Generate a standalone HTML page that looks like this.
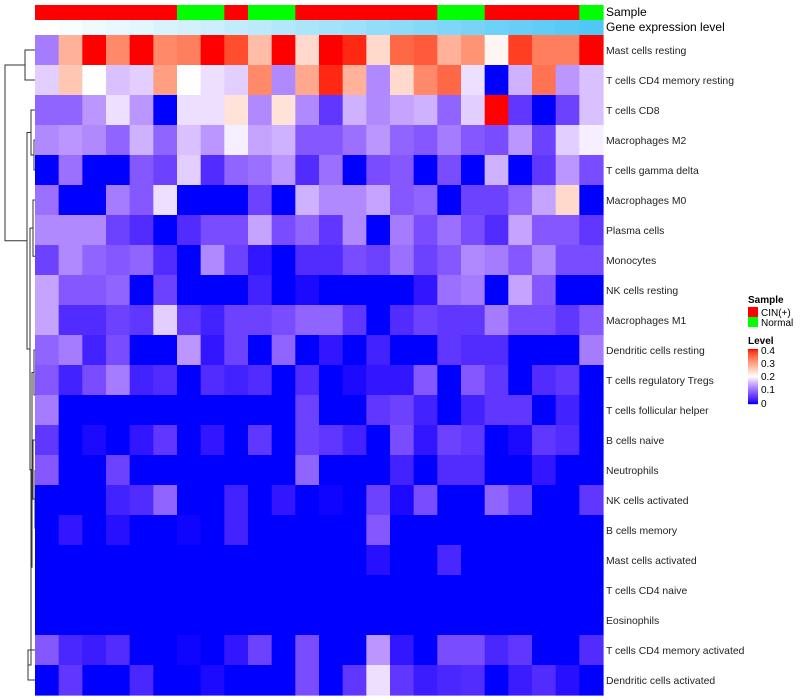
<!DOCTYPE html>
<html><head><meta charset="utf-8"><style>
body{margin:0;background:#fff}
svg{display:block;font-family:"Liberation Sans",sans-serif}
</style></head><body>
<svg id="chart" width="800" height="700" xmlns="http://www.w3.org/2000/svg">
<g id="dendro" fill="none" stroke="#333" stroke-width="1"></g>
<g id="anno"></g>
<g id="cells"></g>
<g id="labels" font-size="10.4" fill="#222"></g>
<text x="606" y="16" font-size="12">Sample</text>
<text x="606" y="31" font-size="12">Gene expression level</text>
<g id="legend" font-size="10">
<text x="748" y="303" font-weight="bold">Sample</text>
<rect x="748" y="307" width="10" height="10" fill="#ff0000"/>
<text x="761" y="316">CIN(+)</text>
<rect x="748" y="317" width="10" height="10" fill="#00ff00"/>
<text x="761" y="326">Normal</text>
<text x="748" y="344" font-weight="bold">Level</text>
<g id="lgrad"></g>
<text x="761" y="354">0.4</text>
<text x="761" y="367">0.3</text>
<text x="761" y="380">0.2</text>
<text x="761" y="393">0.1</text>
<text x="761" y="407">0</text>
</g>
</svg>
<script>
const rowNames=["Mast cells resting","T cells CD4 memory resting","T cells CD8","Macrophages M2","T cells gamma delta","Macrophages M0","Plasma cells","Monocytes","NK cells resting","Macrophages M1","Dendritic cells resting","T cells regulatory  Tregs","T cells follicular helper","B cells naive","Neutrophils","NK cells activated","B cells memory","Mast cells activated","T cells CD4 naive","Eosinophils","T cells CD4 memory activated","Dendritic cells activated"];
const sampleGroups=["CIN","CIN","CIN","CIN","CIN","CIN","Normal","Normal","CIN","Normal","Normal","CIN","CIN","CIN","CIN","CIN","CIN","Normal","Normal","CIN","CIN","CIN","CIN","Normal"];
const geneExpr=[0,0.04,0.09,0.13,0.17,0.22,0.26,0.3,0.35,0.39,0.43,0.48,0.52,0.56,0.61,0.65,0.7,0.74,0.78,0.83,0.87,0.91,0.96,1];
const values=[
[0.11,0.28,0.4,0.32,0.4,0.32,0.33,0.4,0.37,0.27,0.4,0.24,0.4,0.39,0.24,0.35,0.36,0.28,0.31,0.21,0.38,0.33,0.33,0.4],
[0.17,0.26,0.2,0.16,0.17,0.3,0.2,0.18,0.17,0.32,0.12,0.29,0.39,0.28,0.12,0.24,0.32,0.35,0.18,0,0.15,0.34,0.13,0.16],
[0.09,0.09,0.13,0.18,0.13,0,0.18,0.18,0.23,0.12,0.23,0.12,0.05,0.15,0.12,0.14,0.15,0.09,0.17,0.4,0.05,0,0.06,0.16],
[0.12,0.13,0.12,0.09,0.15,0.09,0.16,0.13,0.19,0.14,0.15,0.08,0.08,0.1,0.13,0.09,0.08,0.11,0.08,0.07,0.13,0.06,0.17,0.19],
[0,0.1,0,0,0.08,0.06,0.17,0.04,0.09,0.1,0.13,0.04,0.1,0,0.07,0.08,0,0.07,0,0.15,0,0.05,0.13,0.07],
[0.1,0,0,0.11,0.08,0.18,0,0,0,0.06,0,0.15,0.12,0.12,0.14,0.08,0.09,0,0.06,0.06,0.09,0.14,0.24,0],
[0.12,0.12,0.12,0.06,0.04,0,0.04,0.07,0.07,0.14,0.07,0.09,0.05,0.12,0,0.11,0.07,0.1,0.07,0.04,0.14,0.08,0.08,0.05],
[0.06,0.12,0.09,0.08,0.09,0.04,0,0.12,0.06,0.02,0,0.04,0.04,0.07,0.06,0.1,0.06,0.08,0.12,0.11,0.08,0.12,0.07,0.07],
[0.14,0.08,0.08,0.09,0,0.06,0,0,0,0.03,0,0.01,0,0,0,0,0.02,0.1,0.11,0,0.14,0.08,0,0],
[0.14,0.04,0.04,0.06,0.05,0.17,0.05,0.03,0.06,0.06,0.07,0.09,0.09,0.05,0,0.04,0.06,0.05,0.05,0.11,0.07,0.07,0.05,0.08],
[0.09,0.11,0.03,0.07,0,0,0.13,0.02,0.06,0,0.09,0,0.02,0,0.03,0,0,0.05,0.04,0.04,0,0,0,0.11],
[0.08,0.03,0.07,0.11,0.03,0.04,0,0.04,0.03,0.04,0,0.04,0,0.01,0.02,0.02,0.08,0,0.08,0.05,0,0.04,0.05,0],
[0.11,0,0,0,0,0,0,0,0,0,0,0.06,0,0,0.05,0.06,0.03,0,0.03,0.05,0.05,0,0.03,0],
[0.05,0,0.01,0,0.02,0.05,0,0.02,0,0.05,0,0.06,0.05,0.03,0,0.07,0.02,0.06,0.05,0,0.01,0.05,0.04,0],
[0.08,0,0,0.06,0,0,0,0,0,0,0,0.09,0,0,0,0.03,0,0.04,0.04,0,0,0.02,0,0],
[0,0,0,0.03,0.04,0.09,0,0,0.03,0,0.02,0,0.005,0,0.06,0.01,0.07,0,0,0.09,0.06,0,0,0.05],
[0,0.02,0,0.015,0,0,0.005,0,0.03,0,0,0,0,0,0.08,0,0,0,0,0,0,0,0,0],
[0,0,0,0,0,0,0,0,0,0,0,0,0,0,0.015,0,0,0.035,0,0,0,0,0,0],
[0,0,0,0,0,0,0,0,0,0,0,0,0,0,0,0,0,0,0,0,0,0,0,0],
[0,0,0,0,0,0,0,0,0,0,0,0,0,0,0,0,0,0,0,0,0,0,0,0],
[0.08,0.035,0.025,0.04,0,0,0.005,0,0.02,0.06,0,0.07,0,0,0.13,0.02,0,0.07,0.07,0.035,0.05,0,0,0.04],
[0,0.05,0,0,0.035,0,0,0.01,0,0,0,0.07,0,0.05,0.18,0.05,0.025,0.035,0.04,0,0.025,0.04,0.015,0]
];
const NS="http://www.w3.org/2000/svg";
const X0=35,X1=603,Y0=35,RH=30,nC=24,CW=(X1-X0)/nC;
const xPos=i=>X0+i*CW, yPos=r=>Y0+r*RH;
function lin(c){c/=255;return c<=0.04045?c/12.92:Math.pow((c+0.055)/1.055,2.4);}
function gam(c){c=c<=0.0031308?12.92*c:1.055*Math.pow(c,1/2.4)-0.055;return Math.max(0,Math.min(255,Math.round(c*255)));}
function toLab(rgb){const[r,g,b]=rgb.map(lin);let x=(0.4124*r+0.3576*g+0.1805*b)/0.95047,y=0.2126*r+0.7152*g+0.0722*b,z=(0.0193*r+0.1192*g+0.9505*b)/1.08883;const f=t=>t>0.008856?Math.cbrt(t):7.787*t+16/116;const fx=f(x),fy=f(y),fz=f(z);return[116*fy-16,500*(fx-fy),200*(fy-fz)];}
function fromLab(L){const fy=(L[0]+16)/116,fx=fy+L[1]/500,fz=fy-L[2]/200;const fi=t=>t*t*t>0.008856?t*t*t:(t-16/116)/7.787;const x=fi(fx)*0.95047,y=fi(fy),z=fi(fz)*1.08883;const r=3.2406*x-1.5372*y-0.4986*z,g=-0.9689*x+1.8758*y+0.0415*z,b=0.0557*x-0.2040*y+1.0570*z;return`rgb(${gam(r)},${gam(g)},${gam(b)})`;}
const LB=toLab([0,0,255]),LW=toLab([255,255,255]),LR=toLab([255,0,0]);
function col(v){v=Math.max(0,Math.min(0.4,v));let a,b,t;if(v<=0.2){a=LB;b=LW;t=Math.pow(v/0.2,1.4);}else{a=LW;b=LR;t=(v-0.2)/0.2;}return fromLab(a.map((x,i)=>x+(b[i]-x)*t));}
const cells=document.getElementById('cells');
values.forEach((row,r)=>row.forEach((v,c)=>{const e=document.createElementNS(NS,'rect');
e.setAttribute('x',xPos(c));e.setAttribute('y',yPos(r));e.setAttribute('width',CW+0.6);e.setAttribute('height',RH+0.6);e.setAttribute('fill',col(v));


cells.appendChild(e);}));
const labels=document.getElementById('labels');
rowNames.forEach((n,r)=>{const t=document.createElementNS(NS,'text');t.setAttribute('x',606);t.setAttribute('y',yPos(r)+RH/2+4);t.textContent=n;


labels.appendChild(t);});
const anno=document.getElementById('anno');
sampleGroups.forEach((g,c)=>{const e=document.createElementNS(NS,'rect');e.setAttribute('x',xPos(c));e.setAttribute('y',5);e.setAttribute('width',CW+0.6);e.setAttribute('height',15);e.setAttribute('fill',g==="CIN"?"#ff0000":"#00ff00");


anno.appendChild(e);});
geneExpr.forEach((g,c)=>{const r=Math.round(255+(80-255)*g),gg=Math.round(255+(200-255)*g),b=Math.round(255+(245-255)*g);const e=document.createElementNS(NS,'rect');e.setAttribute('x',xPos(c));e.setAttribute('y',20);e.setAttribute('width',CW+0.6);e.setAttribute('height',15);e.setAttribute('fill',`rgb(${r},${gg},${b})`);


anno.appendChild(e);});
const lg=document.getElementById('lgrad');
for(let i=0;i<55;i++){const v=0.4-0.4*i/54;const e=document.createElementNS(NS,'rect');e.setAttribute('x',748);e.setAttribute('y',349+i);e.setAttribute('width',10);e.setAttribute('height',1.2);e.setAttribute('fill',col(v));


lg.appendChild(e);}
const L=i=>({leaf:i});
const N=(x,a,b)=>({x,a,b});
const tree=N(5,N(25,L(0),L(1)),N(27,N(31,L(2),N(34,L(3),L(4))),N(30,N(33,L(5),N(37,L(6),N(38,L(7),N(39,L(8),L(9))))),N(32,N(34,L(10),N(36,L(11),L(12))),N(31,N(33,L(13),N(35,L(14),N(37,L(15),N(38,L(16),N(39,L(17),N(40,L(18),L(19))))))),N(28,L(20),L(21)))))));
const dg=document.getElementById('dendro');let d="";
function draw(n){if(n.leaf!==undefined)return{x:35,y:yPos(n.leaf)+RH/2};const A=draw(n.a),B=draw(n.b);d+=`M${A.x},${A.y}H${n.x}V${B.y}H${B.x}`;return{x:n.x,y:(A.y+B.y)/2};}
draw(tree);
const p=document.createElementNS(NS,'path');p.setAttribute('d',d);


dg.appendChild(p);
</script>
</body></html>
